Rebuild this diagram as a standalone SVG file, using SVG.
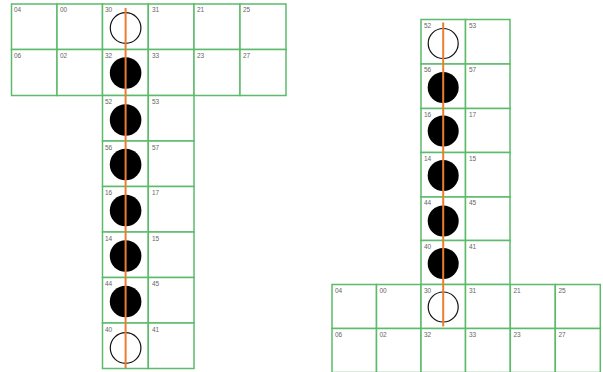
<svg xmlns="http://www.w3.org/2000/svg" width="603" height="372" viewBox="0 0 603 372">
<style>
.c{fill:#fff;stroke:#5cbb6b;stroke-width:1.5}
.t{font-family:"Liberation Sans",Arial,sans-serif;font-size:6.5px;fill:#666}
.e{fill:#fff;stroke:#111;stroke-width:1.2}
.f{fill:#000}
.o{stroke:#ed7d31;stroke-width:2;fill:none}
</style>
<rect width="603" height="372" fill="#fff"/>
<g id="left">
<g id="L04"><rect class="c" x="11.5" y="4" width="45.5" height="45.5"/><text class="t" x="14" y="12">04</text></g>
<g id="L00"><rect class="c" x="57" y="4" width="45.5" height="45.5"/><text class="t" x="60" y="12">00</text></g>
<g id="L30"><rect class="c" x="102.5" y="4" width="45.8" height="45.5"/><text class="t" x="105" y="12">30</text><circle class="e" cx="125.6" cy="28" r="15.3"/></g>
<g id="L31"><rect class="c" x="148.3" y="4" width="45.7" height="45.5"/><text class="t" x="152" y="12">31</text></g>
<g id="L21"><rect class="c" x="194" y="4" width="46" height="45.5"/><text class="t" x="197" y="12">21</text></g>
<g id="L25"><rect class="c" x="240" y="4" width="46" height="45.5"/><text class="t" x="243" y="12">25</text></g>
<g id="L06"><rect class="c" x="11.5" y="49.5" width="45.5" height="46"/><text class="t" x="14" y="58">06</text></g>
<g id="L02"><rect class="c" x="57" y="49.5" width="45.5" height="46"/><text class="t" x="60" y="58">02</text></g>
<g id="L32"><rect class="c" x="102.5" y="49.5" width="45.8" height="46"/><text class="t" x="105" y="58">32</text><circle class="f" cx="125.6" cy="73" r="15.8"/></g>
<g id="L33"><rect class="c" x="148.3" y="49.5" width="45.7" height="46"/><text class="t" x="152" y="58">33</text></g>
<g id="L23"><rect class="c" x="194" y="49.5" width="46" height="46"/><text class="t" x="197" y="58">23</text></g>
<g id="L27"><rect class="c" x="240" y="49.5" width="46" height="46"/><text class="t" x="243" y="58">27</text></g>
<g id="L52"><rect class="c" x="102.5" y="95.5" width="45.8" height="45.5"/><text class="t" x="105" y="104">52</text><circle class="f" cx="125.6" cy="120" r="15.8"/></g>
<g id="L53"><rect class="c" x="148.3" y="95.5" width="45.7" height="45.5"/><text class="t" x="152" y="104">53</text></g>
<g id="L56"><rect class="c" x="102.5" y="141" width="45.8" height="45.5"/><text class="t" x="105" y="149.5">56</text><circle class="f" cx="125.6" cy="164.5" r="15.8"/></g>
<g id="L57"><rect class="c" x="148.3" y="141" width="45.7" height="45.5"/><text class="t" x="152" y="149.5">57</text></g>
<g id="L16"><rect class="c" x="102.5" y="186.5" width="45.8" height="45.5"/><text class="t" x="105" y="195">16</text><circle class="f" cx="125.6" cy="210.5" r="15.8"/></g>
<g id="L17"><rect class="c" x="148.3" y="186.5" width="45.7" height="45.5"/><text class="t" x="152" y="195">17</text></g>
<g id="L14"><rect class="c" x="102.5" y="232" width="45.8" height="45.5"/><text class="t" x="105" y="240.5">14</text><circle class="f" cx="125.6" cy="256" r="15.8"/></g>
<g id="L15"><rect class="c" x="148.3" y="232" width="45.7" height="45.5"/><text class="t" x="152" y="240.5">15</text></g>
<g id="L44"><rect class="c" x="102.5" y="277.5" width="45.8" height="45.5"/><text class="t" x="105" y="286">44</text><circle class="f" cx="125.6" cy="301.5" r="15.8"/></g>
<g id="L45"><rect class="c" x="148.3" y="277.5" width="45.7" height="45.5"/><text class="t" x="152" y="286">45</text></g>
<g id="L40"><rect class="c" x="102.5" y="323" width="45.8" height="45.5"/><text class="t" x="105" y="331.5">40</text><circle class="e" cx="125.6" cy="348" r="15.3"/></g>
<g id="L41"><rect class="c" x="148.3" y="323" width="45.7" height="45.5"/><text class="t" x="152" y="331.5">41</text></g>
</g>
<g id="right">
<g id="R52"><rect class="c" x="421" y="19.5" width="44.5" height="44.5"/><text class="t" x="424" y="27.5">52</text><circle class="e" cx="443.2" cy="43.5" r="15"/></g>
<g id="R53"><rect class="c" x="465.5" y="19.5" width="44.5" height="44.5"/><text class="t" x="469" y="27.5">53</text></g>
<g id="R56"><rect class="c" x="421" y="64" width="44.5" height="44.5"/><text class="t" x="424" y="72">56</text><circle class="f" cx="443.2" cy="87.5" r="15.5"/></g>
<g id="R57"><rect class="c" x="465.5" y="64" width="44.5" height="44.5"/><text class="t" x="469" y="72">57</text></g>
<g id="R16"><rect class="c" x="421" y="108.5" width="44.5" height="44"/><text class="t" x="424" y="116.5">16</text><circle class="f" cx="443.2" cy="131" r="15.5"/></g>
<g id="R17"><rect class="c" x="465.5" y="108.5" width="44.5" height="44"/><text class="t" x="469" y="116.5">17</text></g>
<g id="R14"><rect class="c" x="421" y="152.5" width="44.5" height="44.5"/><text class="t" x="424" y="160.5">14</text><circle class="f" cx="443.2" cy="175.5" r="15.5"/></g>
<g id="R15"><rect class="c" x="465.5" y="152.5" width="44.5" height="44.5"/><text class="t" x="469" y="160.5">15</text></g>
<g id="R44"><rect class="c" x="421" y="197" width="44.5" height="43.5"/><text class="t" x="424" y="205">44</text><circle class="f" cx="443.2" cy="221" r="15.5"/></g>
<g id="R45"><rect class="c" x="465.5" y="197" width="44.5" height="43.5"/><text class="t" x="469" y="205">45</text></g>
<g id="R40"><rect class="c" x="421" y="240.5" width="44.5" height="44"/><text class="t" x="424" y="248.5">40</text><circle class="f" cx="443.2" cy="263.5" r="15.5"/></g>
<g id="R41"><rect class="c" x="465.5" y="240.5" width="44.5" height="44"/><text class="t" x="469" y="248.5">41</text></g>
<g id="R04"><rect class="c" x="332" y="284.5" width="44.5" height="44"/><text class="t" x="335" y="292.5">04</text></g>
<g id="R00"><rect class="c" x="376.5" y="284.5" width="44.5" height="44"/><text class="t" x="379.5" y="292.5">00</text></g>
<g id="R30"><rect class="c" x="421" y="284.5" width="44.5" height="44"/><text class="t" x="424" y="292.5">30</text><circle class="e" cx="443.2" cy="307" r="15"/></g>
<g id="R31"><rect class="c" x="465.5" y="284.5" width="44.8" height="44"/><text class="t" x="469" y="292.5">31</text></g>
<g id="R21"><rect class="c" x="510.3" y="284.5" width="45" height="44"/><text class="t" x="513.5" y="292.5">21</text></g>
<g id="R25"><rect class="c" x="555.3" y="284.5" width="45" height="44"/><text class="t" x="558.5" y="292.5">25</text></g>
<g id="R06"><rect class="c" x="332" y="328.5" width="44.5" height="44"/><text class="t" x="335" y="337">06</text></g>
<g id="R02"><rect class="c" x="376.5" y="328.5" width="44.5" height="44"/><text class="t" x="379.5" y="337">02</text></g>
<g id="R32"><rect class="c" x="421" y="328.5" width="44.5" height="44"/><text class="t" x="424" y="337">32</text></g>
<g id="R33"><rect class="c" x="465.5" y="328.5" width="44.8" height="44"/><text class="t" x="469" y="337">33</text></g>
<g id="R23"><rect class="c" x="510.3" y="328.5" width="45" height="44"/><text class="t" x="513.5" y="337">23</text></g>
<g id="R27"><rect class="c" x="555.3" y="328.5" width="45" height="44"/><text class="t" x="558.5" y="337">27</text></g>
</g>
<g id="connectors">
<line class="o" x1="125.6" y1="8" x2="125.6" y2="368"/>
<line class="o" x1="443.2" y1="22.5" x2="443.2" y2="326.5"/>
</g>
</svg>
